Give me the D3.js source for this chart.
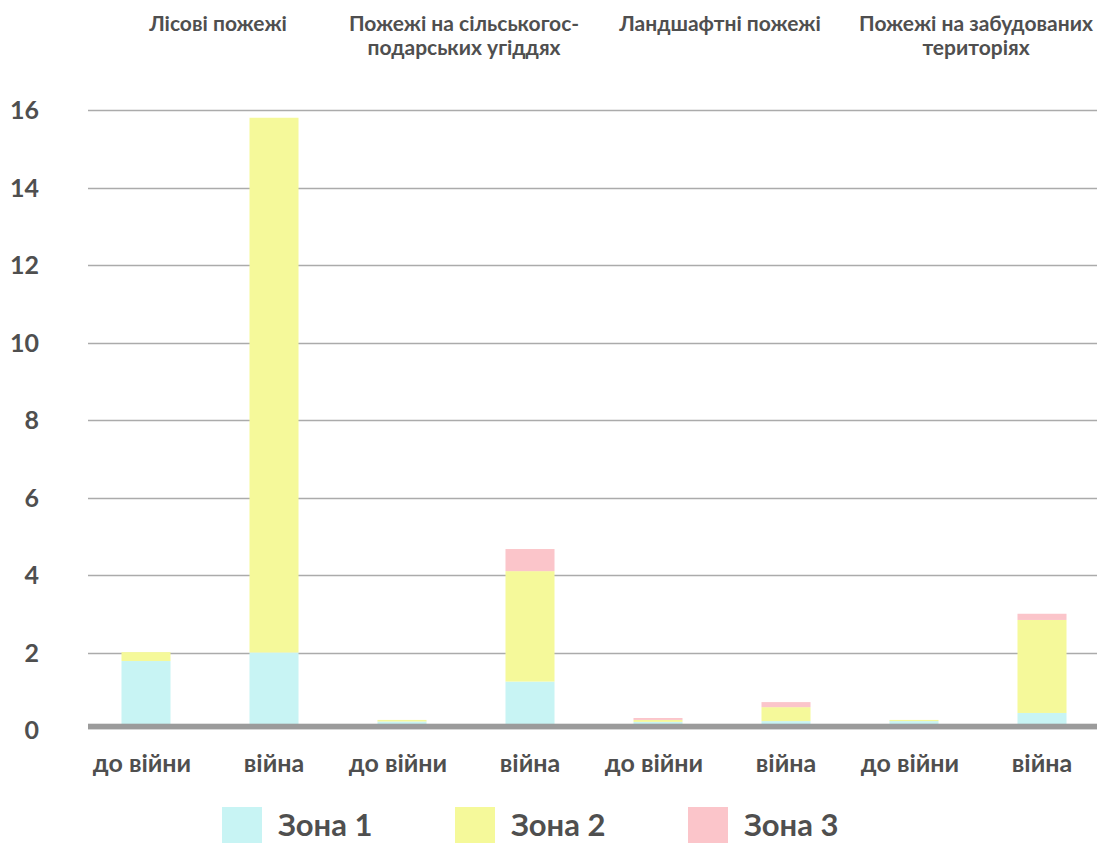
<!DOCTYPE html>
<html>
<head>
<meta charset="utf-8">
<script src="https://cdn.jsdelivr.net/npm/d3@7"></script>
<style>
  html, body { margin: 0; padding: 0; background: #fff; }
  svg { display: block; font-family: Lato, "Open Sans", sans-serif; font-weight: 700; }
</style>
</head>
<body>
<svg id="chart" width="1097" height="843"></svg>
<script>
// Fire categories (group titles, split into lines)
const groups = [
  ["Лісові пожежі"],
  ["Пожежі на сільськогос-", "подарських угіддях"],
  ["Ландшафтні пожежі"],
  ["Пожежі на забудованих", "територіях"]
];
// Bars: before / during the war for each category
const periods = ["до війни", "війна", "до війни", "війна", "до війни", "війна", "до війни", "війна"];
const zones = ["Зона 1", "Зона 2", "Зона 3"];
const zone1 = [1.78, 2.00, 0.22, 1.25, 0.21, 0.23, 0.23, 0.44];
const zone2 = [0.23, 13.80, 0.04, 2.85, 0.05, 0.36, 0.03, 2.40];
const zone3 = [0.00, 0.00, 0.00, 0.57, 0.05, 0.13, 0.00, 0.16];
const yTicks = [0, 2, 4, 6, 8, 10, 12, 14, 16];
const zoneColors = ["#c8f4f4", "#f5f99a", "#fbc5ca"];

const svg = d3.select("#chart");
const textColor = "#4f4f4f";

const rows = periods.map((p, i) => ({ key: i, label: p, z0: zone1[i], z1: zone2[i], z2: zone3[i] }));

const x = d3.scaleBand()
  .domain(rows.map(d => d.key))
  .range([82, 1106])
  .paddingInner(0.617)
  .paddingOuter(0.3085);

const y = d3.scaleLinear().domain([0, 16]).range([730, 110]);

const gridLeft = 88, gridRight = 1097;

// Gridlines
svg.append("g").selectAll("line")
  .data(yTicks.filter(t => t > 0))
  .join("line")
  .attr("x1", gridLeft).attr("x2", gridRight)
  .attr("y1", d => Math.round(y(d)) + 0.5).attr("y2", d => Math.round(y(d)) + 0.5)
  .attr("stroke", "#ababab").attr("stroke-width", 1.3);

// Y tick labels
svg.append("g").selectAll("text")
  .data(yTicks)
  .join("text")
  .attr("x", 39)
  .attr("y", d => y(d))
  .attr("dy", "0.36em")
  .attr("text-anchor", "end")
  .attr("font-size", 25)
  .attr("fill", textColor)
  .text(d => d);

// Stacked bars
const stack = d3.stack().keys(["z0", "z1", "z2"]);
const series = stack(rows);

svg.append("g").selectAll("g")
  .data(series)
  .join("g")
  .attr("fill", (s, i) => zoneColors[i])
  .selectAll("rect")
  .data(s => s)
  .join("rect")
  .attr("x", d => x(d.data.key))
  .attr("width", x.bandwidth())
  .attr("y", d => y(d[1]))
  .attr("height", d => Math.max(0, y(d[0]) - y(d[1])));

// Baseline
svg.append("rect")
  .attr("x", gridLeft).attr("width", gridRight - gridLeft)
  .attr("y", y(0) - 6.3).attr("height", 5.3)
  .attr("fill", "#9b9b9b");
svg.append("rect")
  .attr("x", gridLeft).attr("width", gridRight - gridLeft)
  .attr("y", y(0) - 1).attr("height", 1)
  .attr("fill", "#d6d6d6");

// Period labels under bars
svg.append("g").selectAll("text")
  .data(rows)
  .join("text")
  .attr("x", d => x(d.key) + x.bandwidth() / 2 - (d.key % 2 === 0 ? 4 : 0))
  .attr("y", 772)
  .attr("text-anchor", "middle")
  .attr("font-size", 25)
  .attr("fill", textColor)
  .text(d => d.label);

// Group titles above each pair of bars
const titles = svg.append("g").selectAll("text")
  .data(groups)
  .join("text")
  .attr("x", (g, i) => (x(2 * i) + x(2 * i + 1) + x.bandwidth()) / 2 + (i === 0 ? 8 : -2))
  .attr("y", 31)
  .attr("text-anchor", "middle")
  .attr("font-size", 21)
  .attr("fill", textColor);
titles.selectAll("tspan")
  .data(g => g)
  .join("tspan")
  .attr("x", function () { return d3.select(this.parentNode).attr("x"); })
  .attr("dy", (d, i) => i === 0 ? 0 : 24)
  .text(d => d);

// Legend
const legendX = [222, 455, 688];
const legend = svg.append("g").selectAll("g")
  .data(zones)
  .join("g")
  .attr("transform", (d, i) => `translate(${legendX[i]},807)`);
legend.append("rect")
  .attr("width", 40).attr("height", 36)
  .attr("fill", (d, i) => zoneColors[i]);
legend.append("text")
  .attr("x", 56).attr("y", 29)
  .attr("font-size", 31)
  .attr("fill", textColor)
  .text(d => d);
</script>
</body>
</html>
